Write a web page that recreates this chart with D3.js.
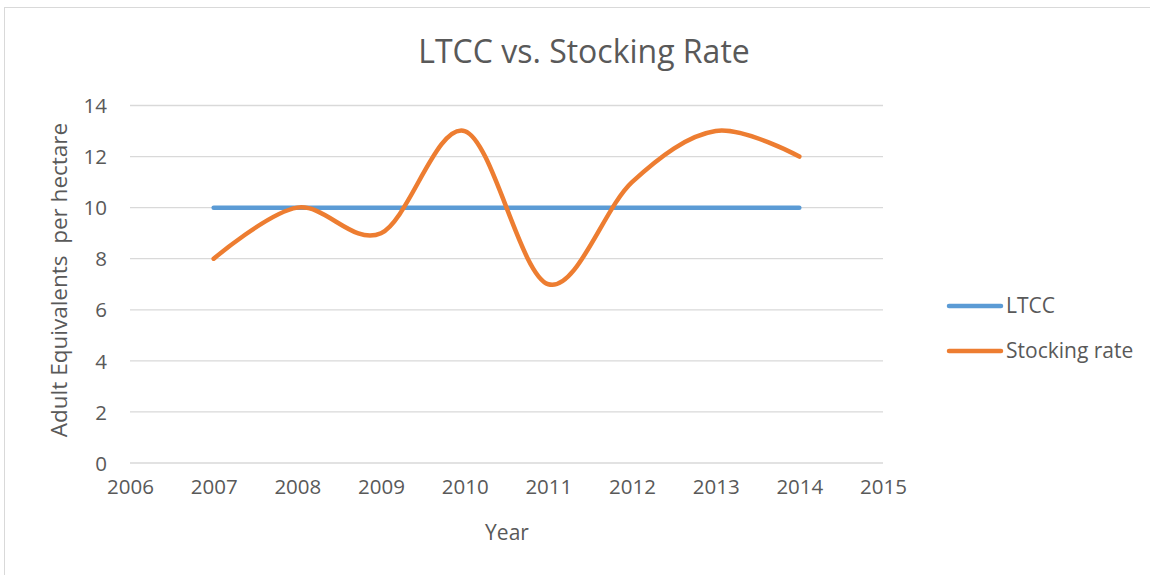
<!DOCTYPE html>
<html><head><meta charset="utf-8">
<script src="https://cdn.jsdelivr.net/npm/d3@7"></script>
<style>body{margin:0;background:#fff}svg{display:block}text{font-family:"Open Sans",sans-serif;fill:#595959}</style>
</head><body>
<script>
const years = [2007, 2008, 2009, 2010, 2011, 2012, 2013, 2014];
const ltcc = [10, 10, 10, 10, 10, 10, 10, 10];
const stocking = [8, 10, 9, 13, 7, 11, 13, 12];
const xTicks = [2006, 2007, 2008, 2009, 2010, 2011, 2012, 2013, 2014, 2015];
const yTicks = [0, 2, 4, 6, 8, 10, 12, 14];
const seriesNames = ["LTCC", "Stocking rate"];
const colors = ["#5B9BD5", "#ED7D31"];

const W = 1150, H = 575;
const svg = d3.select("body").append("svg").attr("width", W).attr("height", H);
svg.append("rect").attr("x", 4.5).attr("y", 7.5).attr("width", W).attr("height", H)
  .attr("fill", "#fff").attr("stroke", "#d9d9d9");

const x = d3.scaleLinear().domain([2006, 2015]).range([130, 883]);
const y = d3.scaleLinear().domain([0, 14]).range([463, 105.5]);

// gridlines
svg.append("g").selectAll("line").data(yTicks).join("line")
  .attr("x1", x(2006)).attr("x2", x(2015))
  .attr("y1", d => y(d)).attr("y2", d => y(d))
  .attr("stroke", "#d9d9d9").attr("stroke-width", 1.3);

// y axis labels
const yAxis = d3.axisLeft(y).tickValues(yTicks).tickSize(0).tickPadding(0);
const gy = svg.append("g").attr("transform", "translate(107,0)").call(yAxis);
gy.select(".domain").remove();
gy.selectAll("text").attr("font-size", 20.5).attr("font-family", "Open Sans").attr("fill", "#595959").attr("dy", "0.35em");

// x axis labels
const xAxis = d3.axisBottom(x).tickValues(xTicks).tickFormat(d3.format("d")).tickSize(0).tickPadding(0);
const gx = svg.append("g").attr("transform", "translate(0,479)").call(xAxis);
gx.select(".domain").remove();
gx.selectAll("text").attr("font-size", 20.5).attr("font-family", "Open Sans").attr("fill", "#595959").attr("dy", "0.71em");

// lines
const line = d3.line().x((d, i) => x(years[i])).y(d => y(d)).curve(d3.curveCardinal.tension(0));
[ltcc, stocking].forEach((s, k) => {
  svg.append("path").datum(s).attr("d", line).attr("fill", "none")
    .attr("stroke", colors[k]).attr("stroke-width", 4.5).attr("stroke-linecap", "round").attr("stroke-linejoin", "round");
});

// title
svg.append("text").attr("x", 584).attr("y", 63).attr("text-anchor", "middle")
  .attr("font-size", 32).text("LTCC vs. Stocking Rate");

// axis titles
svg.append("text").attr("x", 507).attr("y", 540).attr("text-anchor", "middle")
  .attr("font-size", 21).text("Year");
svg.append("text").attr("transform", "translate(67,280) rotate(-90)").attr("text-anchor", "middle")
  .attr("font-size", 22.5).attr("xml:space", "preserve").style("white-space", "pre").text("Adult Equivalents  per hectare");

// legend
const leg = svg.append("g");
[306, 351].forEach((ly, k) => {
  leg.append("line").attr("x1", 949).attr("x2", 1001).attr("y1", ly).attr("y2", ly)
    .attr("stroke", colors[k]).attr("stroke-width", 4.5).attr("stroke-linecap", "round");
  leg.append("text").attr("x", 1006).attr("y", ly).attr("dy", "0.35em")
    .attr("font-size", 21).text(seriesNames[k]);
});
</script>
</body></html>
